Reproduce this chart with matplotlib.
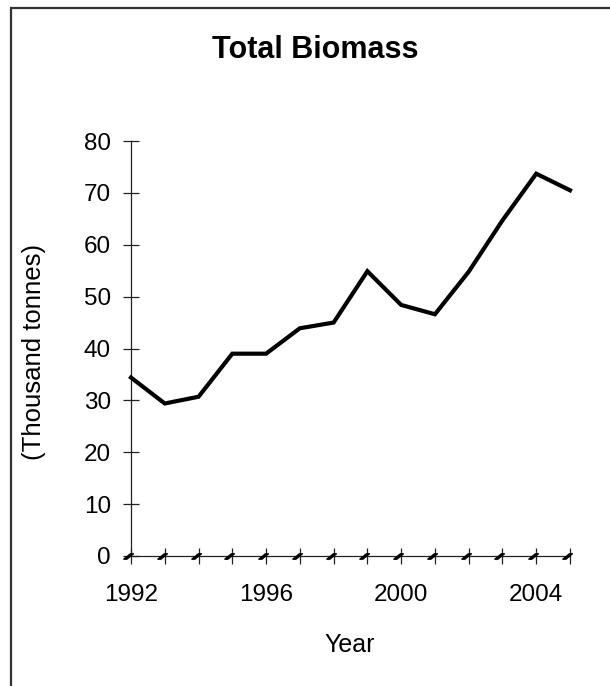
import matplotlib
matplotlib.use('Agg')
import matplotlib.pyplot as plt
from matplotlib.path import Path
from matplotlib.patches import Rectangle

plt.rcParams['font.family'] = ['Liberation Sans', 'DejaVu Sans']

# data
years = [1992, 1993, 1994, 1995, 1996, 1997, 1998, 1999, 2000, 2001, 2002, 2003, 2004, 2005]
biomass = [34.4, 29.4, 30.7, 39.0, 39.0, 43.9, 45.0, 54.9, 48.4, 46.6, 54.8, 64.7, 73.7, 70.5]
zeros = [0] * len(years)
label_years = [1992, 1996, 2000, 2004]
y_ticks = [0, 10, 20, 30, 40, 50, 60, 70, 80]

# slanted dash marker, sits left of the tick
dash = Path([(-1.0, -0.35), (-0.15, 0.35), (0.25, 0.35), (-0.6, -0.35), (-1.0, -0.35)],
            [Path.MOVETO, Path.LINETO, Path.LINETO, Path.LINETO, Path.CLOSEPOLY])

fig = plt.figure(figsize=(6.1, 6.86), dpi=100)
ax = fig.add_axes([131 / 610, 1 - 556 / 686, (570 - 131) / 610, (556 - 141) / 686])

ax.plot(years, biomass, color='black', lw=3, solid_joinstyle='miter', clip_on=False, zorder=3)
ax.plot(years, zeros, linestyle='none', marker=dash, markersize=11, color='black',
        clip_on=False, zorder=4)

ax.set_xlim(1992, 2005)
ax.set_ylim(0, 80)
ax.set_xticks(years)
ax.set_xticklabels([str(y) if y in label_years else '' for y in years])
ax.set_yticks(y_ticks)

for s in ['top', 'right']:
    ax.spines[s].set_visible(False)
for s in ['left', 'bottom']:
    ax.spines[s].set_linewidth(0.9)
    ax.spines[s].set_color('#222222')

ax.tick_params(direction='inout', length=11, width=0.9, color='#222222',
               labelsize=17.5)
ax.tick_params(axis='y', pad=9)
ax.tick_params(axis='x', pad=15)

fig.text(315 / 610, 1 - 50 / 686, 'Total Biomass', fontsize=22, fontweight='bold',
         ha='center', va='center')
fig.text(34 / 610, 1 - 352 / 686, '(Thousand tonnes)', fontsize=18.5, rotation=90,
         ha='center', va='center')
fig.text(350 / 610, 1 - 645 / 686, 'Year', fontsize=18, ha='center', va='center')

# chart area border, cut at right and bottom edges
fig.patches.append(Rectangle((11 / 610, -0.05), 1.2, 1 - 8 / 686 + 0.05,
                             transform=fig.transFigure, fill=False,
                             edgecolor='#333333', linewidth=1.6))

fig.savefig('out.png', dpi=100)
